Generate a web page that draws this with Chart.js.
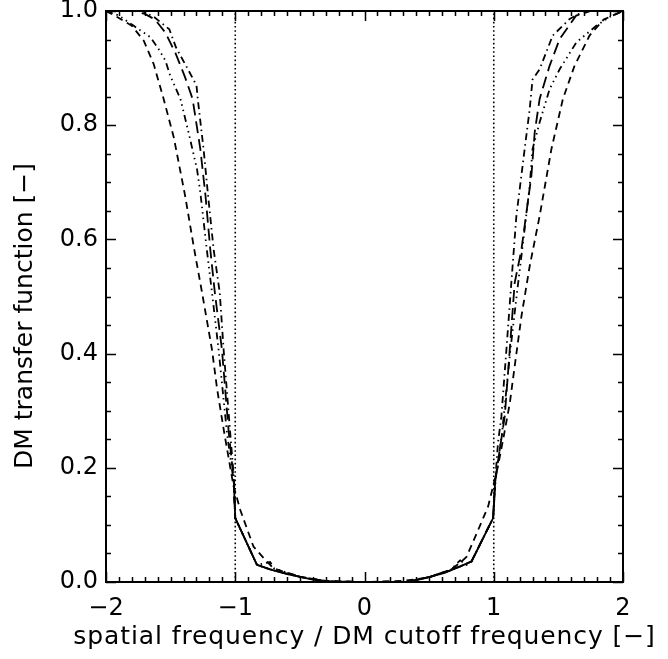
<!DOCTYPE html>
<html>
<head>
<meta charset="utf-8">
<script src="https://cdn.jsdelivr.net/npm/chart.js@4.4.1/dist/chart.umd.min.js"></script>
<style>
  html, body { margin: 0; padding: 0; background: #fff; }
  #wrap { width: 668px; height: 659px; }
</style>
</head>
<body>
<div id="wrap"><canvas id="c" width="668" height="659"></canvas></div>
<script>
// ---- axis ticks and titles ----
const xTickValues = [-2, -1, 0, 1, 2];
const yTickValues = [0.0, 0.2, 0.4, 0.6, 0.8, 1.0];
const cutoffX = [-1, 1];
const xTitle = 'spatial frequency / DM cutoff frequency [\u2212]';
const yTitle = 'DM transfer function [\u2212]';

// ---- series: dashed ----
const dashedX = [-2.0, -1.91, -1.80, -1.708, -1.631, -1.554, -1.476, -1.39, -1.317, -1.257, -1.18, -1.141, -1.085, -1.015, -0.961, -0.859, -0.781, -0.704, -0.5, -0.3, 0.0, 0.3, 0.5, 0.66, 0.737, 0.789, 0.879, 0.956, 1.03, 1.072, 1.124, 1.162, 1.214, 1.278, 1.355, 1.446, 1.535, 1.625, 1.741, 1.85, 2.0];
const dashedY = [1.0, 0.989, 0.974, 0.948, 0.907, 0.846, 0.779, 0.679, 0.582, 0.507, 0.407, 0.339, 0.261, 0.17, 0.126, 0.062, 0.042, 0.024, 0.009, 0.002, 0.0, 0.002, 0.008, 0.021, 0.033, 0.044, 0.091, 0.132, 0.2, 0.249, 0.313, 0.378, 0.465, 0.553, 0.641, 0.758, 0.846, 0.904, 0.957, 0.985, 1.0];

// ---- series: dash-dot ----
const dashDotX = [-2.0, -1.72, -1.625, -1.51, -1.458, -1.371, -1.30, -1.29, -1.245, -1.21, -1.167, -1.12, -1.09, -1.039, -1.01, -1.0, -0.832, -0.73, -0.498, -0.292, 0.0, 0.326, 0.506, 0.66, 0.74, 0.79, 0.828, 0.995, 1.012, 1.033, 1.059, 1.098, 1.136, 1.175, 1.239, 1.278, 1.30, 1.355, 1.456, 1.587, 1.70, 2.0];
const dashDotY = [1.0, 1.0, 0.989, 0.968, 0.936, 0.9, 0.87, 0.846, 0.758, 0.676, 0.582, 0.507, 0.407, 0.261, 0.18, 0.112, 0.03, 0.022, 0.009, 0.001, 0.0, 0.0, 0.009, 0.02, 0.038, 0.03, 0.036, 0.112, 0.18, 0.244, 0.29, 0.407, 0.524, 0.641, 0.758, 0.828, 0.88, 0.898, 0.957, 0.986, 1.0, 1.0];

// ---- series: dash-dot-dot-dot ----
const dash3DotX = [-2.0, -1.9, -1.785, -1.656, -1.592, -1.54, -1.502, -1.424, -1.361, -1.296, -1.27, -1.22, -1.18, -1.129, -1.064, -1.015, -1.0, -0.832, -0.73, -0.70, -0.498, -0.292, 0.0, 0.326, 0.506, 0.737, 0.828, 0.995, 1.015, 1.064, 1.129, 1.18, 1.22, 1.278, 1.30, 1.355, 1.432, 1.51, 1.639, 1.793, 1.9, 2.0];
const dash3DotY = [1.0, 0.992, 0.974, 0.954, 0.933, 0.913, 0.886, 0.846, 0.787, 0.723, 0.682, 0.582, 0.507, 0.407, 0.261, 0.18, 0.112, 0.03, 0.035, 0.024, 0.009, 0.001, 0.0, 0.0, 0.009, 0.027, 0.036, 0.112, 0.18, 0.261, 0.407, 0.507, 0.582, 0.693, 0.758, 0.805, 0.863, 0.898, 0.945, 0.974, 0.99, 1.0];

// ---- series: long dashes ----
const longDashX = [-2.0, -1.78, -1.70, -1.62, -1.54, -1.46, -1.39, -1.33, -1.27, -1.23, -1.193, -1.158, -1.103, -1.05, -1.012, -1.0, -0.832, -0.73, -0.498, -0.292, 0.0, 0.326, 0.506, 0.737, 0.828, 0.995, 1.012, 1.085, 1.124, 1.162, 1.214, 1.291, 1.317, 1.355, 1.432, 1.51, 1.638, 1.75, 2.0];
const longDashY = [1.0, 1.0, 0.995, 0.985, 0.962, 0.925, 0.885, 0.846, 0.758, 0.676, 0.582, 0.507, 0.407, 0.261, 0.18, 0.112, 0.03, 0.022, 0.009, 0.001, 0.0, 0.0, 0.009, 0.027, 0.036, 0.112, 0.18, 0.29, 0.407, 0.524, 0.582, 0.711, 0.788, 0.846, 0.904, 0.951, 0.992, 1.0, 1.0];

// ---- series: solid ----
const solidX = [-1.012, -1.0, -0.832, -0.73, -0.6, -0.498, -0.4, -0.292, -0.15, 0.0, 0.15, 0.326, 0.42, 0.506, 0.62, 0.737, 0.828, 0.995, 1.012];
const solidY = [0.18, 0.112, 0.030, 0.022, 0.014, 0.009, 0.004, 0.001, 0.0, 0.0, 0.0, 0.0, 0.004, 0.009, 0.016, 0.027, 0.036, 0.112, 0.18];

const toPts = (xs, ys) => xs.map((v, i) => ({ x: v, y: ys[i] }));
const minus = v => (v < 0 ? '\u2212' + Math.abs(v) : String(v));

const FONT = '"DejaVu Sans", sans-serif';

function lineDs(xs, ys, dash, w) {
  return {
    data: toPts(xs, ys),
    showLine: true,
    borderColor: '#000',
    borderWidth: w || 1.8,
    borderDash: dash,
    pointRadius: 0,
    tension: 0,
    fill: false
  };
}

const inwardTicks = {
  id: 'inwardTicks',
  afterDatasetsDraw(chart) {
    const { ctx, chartArea: { left, right, top, bottom }, scales: { x, y } } = chart;
    ctx.save();
    ctx.strokeStyle = '#000';
    ctx.lineWidth = 1.5;
    ctx.setLineDash([]);
    ctx.beginPath();
    const xMinor = 0.1;
    const nx = Math.round((x.max - x.min) / xMinor);
    for (let i = 0; i <= nx; i++) {
      const v = x.min + i * xMinor;
      const px = Math.round(x.getPixelForValue(v)) + 0.5;
      const len = (i % 10 === 0) ? 10 : 5;
      ctx.moveTo(px, bottom); ctx.lineTo(px, bottom - len);
      ctx.moveTo(px, top); ctx.lineTo(px, top + len);
    }
    const yMinor = 0.05;
    const ny = Math.round((y.max - y.min) / yMinor);
    for (let i = 0; i <= ny; i++) {
      const v = y.min + i * yMinor;
      const py = Math.round(y.getPixelForValue(v)) + 0.5;
      const len = (i % 4 === 0) ? 10 : 5;
      ctx.moveTo(left, py); ctx.lineTo(left + len, py);
      ctx.moveTo(right, py); ctx.lineTo(right - len, py);
    }
    ctx.stroke();
    ctx.lineWidth = 2;
    ctx.strokeRect(left, top, right - left, bottom - top);
    ctx.restore();
  },
  afterDraw(chart) {
    const { ctx, chartArea: { left, right } } = chart;
    ctx.save();
    ctx.fillStyle = '#000';
    ctx.font = '25px ' + FONT;
    ctx.textAlign = 'center';
    ctx.textBaseline = 'middle';
    ctx.letterSpacing = '0.9px';
    ctx.fillText(xTitle, (left + right) / 2, 637);
    ctx.letterSpacing = '0px';
    ctx.translate(25, 316);
    ctx.rotate(-Math.PI / 2);
    ctx.fillText(yTitle, 0, 0);
    ctx.restore();
  }
};

new Chart(document.getElementById('c'), {
  type: 'scatter',
  data: {
    datasets: [
      lineDs([cutoffX[0], cutoffX[0]], [0, 1], [1.6, 2.6], 1.6),
      lineDs([cutoffX[1], cutoffX[1]], [0, 1], [1.6, 2.6], 1.6),
      lineDs(solidX, solidY, []),
      lineDs(dashedX, dashedY, [7, 5]),
      lineDs(dashDotX, dashDotY, [7, 4, 1.5, 4]),
      lineDs(dash3DotX, dash3DotY, [7, 4, 1.5, 4, 1.5, 4, 1.5, 4]),
      lineDs(longDashX, longDashY, [12, 6])
    ]
  },
  options: {
    responsive: false,
    animation: false,
    devicePixelRatio: 1,
    layout: { padding: { top: 11, right: 45, left: 0, bottom: 0 } },
    plugins: { legend: { display: false }, tooltip: { enabled: false } },
    scales: {
      x: {
        type: 'linear',
        min: -2, max: 2,
        afterBuildTicks: s => { s.ticks = xTickValues.map(v => ({ value: v })); },
        afterFit: s => { s.height = 77; s.paddingLeft = 0; s.paddingRight = 0; },
        grid: { display: false, drawTicks: false },
        border: { display: false },
        ticks: {
          padding: 12,
          color: '#000',
          font: { family: FONT, size: 24 },
          maxRotation: 0,
          callback: v => minus(v)
        },
        title: { display: false }
      },
      y: {
        type: 'linear',
        min: 0, max: 1,
        afterBuildTicks: s => { s.ticks = yTickValues.map(v => ({ value: v })); },
        afterFit: s => { s.width = 106; s.paddingTop = 0; s.paddingBottom = 0; },
        grid: { display: false, drawTicks: false },
        border: { display: false },
        ticks: {
          padding: 8,
          color: '#000',
          font: { family: FONT, size: 24 },
          callback: v => Number(v).toFixed(1)
        },
        title: { display: false }
      }
    }
  },
  plugins: [inwardTicks]
});
</script>
</body>
</html>
